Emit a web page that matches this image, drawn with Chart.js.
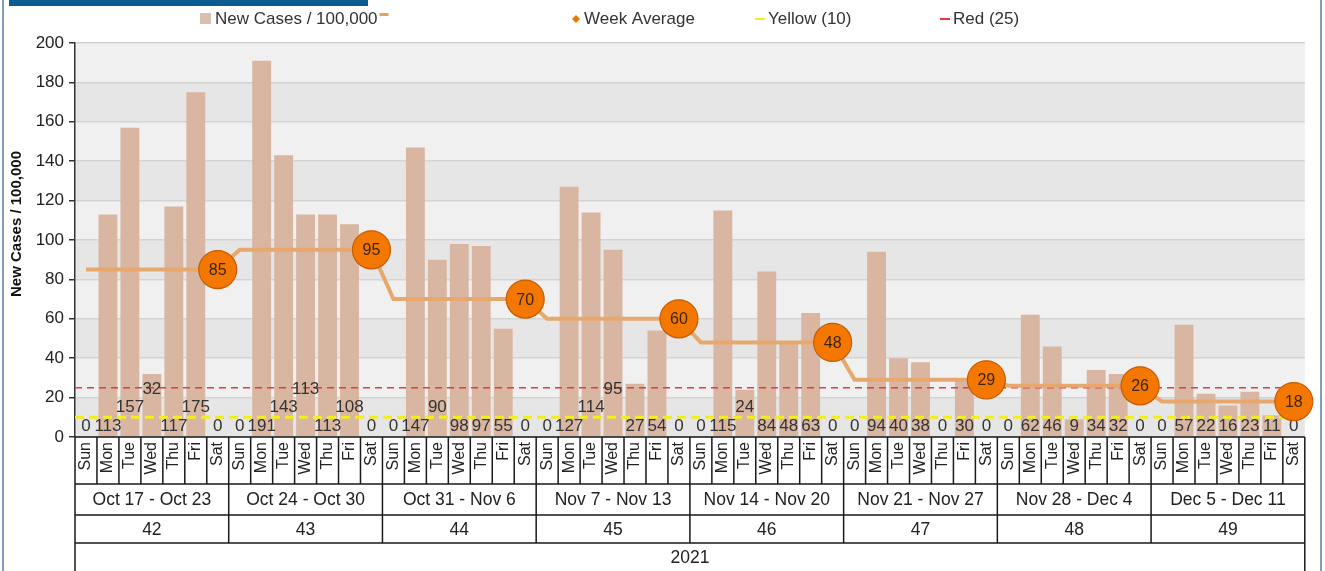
<!DOCTYPE html>
<html>
<head>
<meta charset="utf-8">
<script src="https://cdn.jsdelivr.net/npm/chart.js@4.4.1/dist/chart.umd.min.js"></script>
<style>
html,body{margin:0;padding:0;background:#fff;}
canvas{display:block;}
</style>
</head>
<body>
<canvas id="c" width="1325" height="571"></canvas>
<script>
// ---- data ----
const dayNames = ['Sun','Mon','Tue','Wed','Thu','Fri','Sat'];
const weekRanges = ['Oct 17 - Oct 23','Oct 24 - Oct 30','Oct 31 - Nov 6','Nov 7 - Nov 13','Nov 14 - Nov 20','Nov 21 - Nov 27','Nov 28 - Dec 4','Dec 5 - Dec 11'];
const weekNumbers = ['42','43','44','45','46','47','48','49'];
const yearLabel = '2021';
const newCases = [
  0,113,157,32,117,175,0,
  0,191,143,113,113,108,0,
  0,147,90,98,97,55,0,
  0,127,114,95,27,54,0,
  0,115,24,84,48,63,0,
  0,94,40,38,0,30,0,
  0,62,46,9,34,32,0,
  0,57,22,16,23,11,0
];
const weekAverage = [85,95,70,60,48,29,26,18];
const thresholdNames = ['Yellow (10)','Red (25)'];
const thresholdValues = [10,25];
const yTicks = [0,20,40,60,80,100,120,140,160,180,200];
const yTitle = 'New Cases / 100,000';
const seriesNames = ['New Cases / 100,000','Week Average'];

// ---- derived ----
const labels = [];
weekRanges.forEach(()=>dayNames.forEach(d=>labels.push(d)));
const avgPerDay = [];
weekAverage.forEach(v=>dayNames.forEach(()=>avgPerDay.push(v)));

const FONT = '"Liberation Sans", Arial, sans-serif';

const custom = {
  id:'custom',
  beforeDraw(chart){
    const {ctx, chartArea:a} = chart;
    const ys = chart.scales.y;
    ctx.save();
    ctx.fillStyle='#fff';
    ctx.fillRect(0,0,chart.width,chart.height);
    for(let v=0; v<200; v+=20){
      ctx.fillStyle = (v/20)%2===0 ? '#e6e6e6' : '#f0f0f0';
      const y1 = ys.getPixelForValue(v+20), y0 = ys.getPixelForValue(v);
      ctx.fillRect(a.left, y1, a.right-a.left, y0-y1);
    }
    ctx.restore();
  },
  afterDatasetDraw(chart, args){
    if(args.index!==0) return;
    const {ctx, chartArea:a} = chart;
    const xs = chart.scales.x, ys = chart.scales.y;
    ctx.save();
    const tStyle = [{c:'#f2ee1a',w:3,d:[9,5]},{c:'#e8383d',w:1.6,d:[7,5]}];
    thresholdValues.forEach((v,k)=>{
      const y = ys.getPixelForValue(v);
      ctx.strokeStyle=tStyle[k].c; ctx.lineWidth=tStyle[k].w; ctx.setLineDash(tStyle[k].d);
      ctx.beginPath(); ctx.moveTo(a.left,y); ctx.lineTo(a.right,y); ctx.stroke();
    });
    ctx.setLineDash([]);
    ctx.font = '17px '+FONT;
    ctx.fillStyle='#333';
    ctx.textAlign='center'; ctx.textBaseline='middle';
    const spacing = xs.getPixelForValue(1)-xs.getPixelForValue(0);
    let prevW=0, prevLevel=0;
    newCases.forEach((v,i)=>{
      const t=String(v), w=ctx.measureText(t).width;
      let level=0;
      if(i>0 && (w+prevW)/2+1.5>spacing) level=(prevLevel+1)%3;
      ctx.fillText(t, xs.getPixelForValue(i), ys.bottom-11-level*18.5);
      prevW=w; prevLevel=level;
    });
    ctx.restore();
  },
  afterDatasetsDraw(chart){
    const {ctx, chartArea:a} = chart;
    const xs = chart.scales.x, ys = chart.scales.y;
    ctx.save();
    ctx.font='16px '+FONT; ctx.fillStyle='#3a2410';
    ctx.textAlign='center'; ctx.textBaseline='middle';
    weekAverage.forEach((v,k)=>{
      ctx.fillText(String(v), xs.getPixelForValue(k*7+6), ys.getPixelForValue(v)+1);
    });
    // table
    const L=a.left, R=a.right, n=labels.length, cw=(R-L)/n;
    const y0=a.bottom, y1=484, y2=515, y3=543, y4=chart.height;
    ctx.strokeStyle='#1a1a1a'; ctx.lineWidth=1.5;
    ctx.beginPath();
    [y0,y1,y2,y3].forEach(y=>{ctx.moveTo(L,y);ctx.lineTo(R,y);});
    for(let i=0;i<=n;i++){
      const x=L+i*cw;
      let yb = y1;
      if(i%7===0) yb = y3;
      if(i===0||i===n) yb = y4;
      ctx.moveTo(x,y0); ctx.lineTo(x,yb);
    }
    ctx.stroke();
    ctx.fillStyle='#222';
    ctx.font='16px '+FONT;
    labels.forEach((d,i)=>{
      ctx.save();
      ctx.translate(L+(i+0.5)*cw, y0+5);
      ctx.rotate(-Math.PI/2);
      ctx.textAlign='right'; ctx.textBaseline='middle';
      ctx.fillText(d,0,0);
      ctx.restore();
    });
    ctx.font='17.5px '+FONT; ctx.textAlign='center'; ctx.textBaseline='middle';
    weekRanges.forEach((r,k)=>{
      ctx.fillText(r, L+(k*7+3.5)*cw, (y1+y2)/2+1);
      ctx.fillText(weekNumbers[k], L+(k*7+3.5)*cw, (y2+y3)/2+1);
    });
    ctx.fillText(yearLabel, (L+R)/2, (y3+y4)/2+1);
    // y title
    ctx.save();
    ctx.translate(17,224); ctx.rotate(-Math.PI/2);
    ctx.font='bold 15px '+FONT; ctx.fillStyle='#111';
    ctx.fillText(yTitle,0,0);
    ctx.restore();
    // legend
    ctx.font='17px '+FONT; ctx.textAlign='left'; ctx.textBaseline='middle';
    const ly=19;
    ctx.fillStyle='#d9bfae'; ctx.fillRect(200,13,11,11);
    ctx.fillStyle='#333'; ctx.fillText(seriesNames[0],215,ly);
    const w0 = ctx.measureText(seriesNames[0]).width;
    ctx.fillStyle='#e8a060'; ctx.fillRect(215+w0+2,13,9,3);
    ctx.fillStyle='#f07400';
    ctx.beginPath(); ctx.moveTo(576,15); ctx.lineTo(580,19); ctx.lineTo(576,23); ctx.lineTo(572,19); ctx.closePath(); ctx.fill();
    ctx.fillStyle='#333'; ctx.fillText(seriesNames[1],584,ly);
    ctx.fillStyle='#f2ee1a'; ctx.fillRect(755,18,10,2);
    ctx.fillStyle='#333'; ctx.fillText(thresholdNames[0],768,ly);
    ctx.fillStyle='#e8383d'; ctx.fillRect(940,18,10,2);
    ctx.fillStyle='#333'; ctx.fillText(thresholdNames[1],953,ly);
    // frame
    ctx.fillStyle='#0d5c91'; ctx.fillRect(9,0,359,6);
    ctx.fillStyle='#7f9cba'; ctx.fillRect(2,0,2,chart.height); ctx.fillRect(1320,0,2,chart.height);
    ctx.restore();
  }
};

new Chart(document.getElementById('c'), {
  type:'bar',
  data:{
    labels,
    datasets:[
      {type:'bar', label:seriesNames[0], data:newCases, backgroundColor:'#d9b6a1',
       barPercentage:0.86, categoryPercentage:1, order:2},
      {type:'line', label:seriesNames[1], data:avgPerDay, borderColor:'#e6a86c', borderWidth:4,
       tension:0, order:1,
       pointRadius: c => (c.dataIndex%7===6 ? 19 : 0),
       pointHoverRadius: c => (c.dataIndex%7===6 ? 19 : 0),
       pointBackgroundColor:'#f47800', pointBorderColor:'#c85a00', pointBorderWidth:1.2}
    ]
  },
  options:{
    responsive:false, animation:false, devicePixelRatio:1,
    layout:{padding:{top:43,right:16,bottom:134,left:0}},
    plugins:{legend:{display:false}, tooltip:{enabled:false}},
    scales:{
      x:{display:false},
      y:{min:0,max:200,
         afterFit(s){s.width=75;},
         afterBuildTicks(s){s.ticks=yTicks.map(v=>({value:v}));},
         ticks:{font:{size:17,family:FONT},color:'#222',padding:5},
         grid:{color:'#d3d3d3',lineWidth:1.5,tickLength:6,tickColor:'#333',tickWidth:1.5},
         border:{color:'#333',width:1.5}}
    }
  },
  plugins:[custom]
});
</script>
</body>
</html>
